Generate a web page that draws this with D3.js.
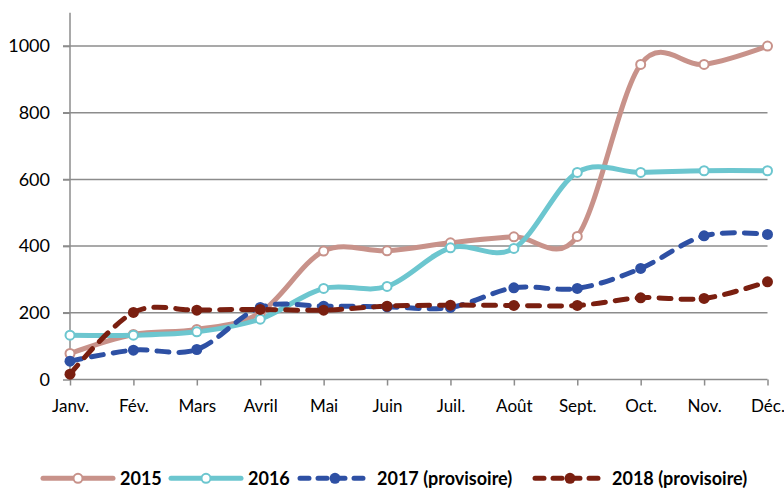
<!DOCTYPE html>
<html><head><meta charset="utf-8">
<script src="https://cdn.jsdelivr.net/npm/d3@7"></script>
<style>html,body{margin:0;padding:0;background:#fff;}svg{display:block;font-family:Lato,"Open Sans",sans-serif;}</style>
</head><body>
<svg id="chart" width="784" height="488"></svg>
<script>
const months = ["Janv.","Fév.","Mars","Avril","Mai","Juin","Juil.","Août","Sept.","Oct.","Nov.","Déc."];
const yTicks = [0,200,400,600,800,1000];
const v2015 = [78,135,150,200,385,386,410,428,429,945,945,1000];
const v2016 = [133,133,143,181,273,279,395,393,621,621,626,626];
const v2017 = [55,88,90,216,220,218,216,275,273,333,431,435];
const v2018 = [16,201,208,210,208,220,223,222,222,245,243,293];
const seriesNames = ["2015","2016","2017 (provisoire)","2018 (provisoire)"];
const seriesColors = ["#C8928A","#6CC6CF","#2E50A4","#7A1F10"];

const series = [
  {name:seriesNames[0], values:v2015, color:seriesColors[0], dashed:false},
  {name:seriesNames[1], values:v2016, color:seriesColors[1], dashed:false},
  {name:seriesNames[2], values:v2017, color:seriesColors[2], dashed:true},
  {name:seriesNames[3], values:v2018, color:seriesColors[3], dashed:true}
];

const svg = d3.select("#chart");
const x = d3.scalePoint().domain(months).range([70,767.5]).padding(0);
const y = d3.scaleLinear().domain([0,1100]).range([379.5,12.7]);
const axisColor = "#8c8c8c";

// gridlines
svg.append("g").selectAll("line").data(yTicks.filter(d=>d>0)).join("line")
  .attr("x1",63).attr("x2",767.5)
  .attr("y1",d=>y(d)).attr("y2",d=>y(d))
  .attr("stroke",axisColor).attr("stroke-width",1.5);

// y axis
const yAxis = svg.append("g").attr("transform","translate(70,0)")
  .call(d3.axisLeft(y).tickValues(yTicks).tickSize(7).tickPadding(13).tickFormat(d3.format("d")));
yAxis.select(".domain").attr("stroke",axisColor).attr("stroke-width",1.5).attr("d","M0,12.7V379.5");
yAxis.selectAll(".tick line").attr("stroke",axisColor).attr("stroke-width",1.5);
yAxis.selectAll("text").attr("font-size",18).attr("fill","#000").attr("font-family","Lato");

// x axis
const xAxis = svg.append("g").attr("transform","translate(0,379.5)")
  .call(d3.axisBottom(x).tickSize(6).tickPadding(14));
xAxis.select(".domain").attr("stroke",axisColor).attr("stroke-width",1.5).attr("d","M70,0H767.5");
xAxis.selectAll(".tick line").attr("stroke",axisColor).attr("stroke-width",1.5);
xAxis.selectAll("text").attr("font-size",17).attr("fill","#000").attr("font-family","Lato");

// lines
const line = d3.line().x((d,i)=>x(months[i])).y(d=>y(d)).curve(d3.curveCardinal.tension(0));
series.forEach(s=>{
  svg.append("path").datum(s.values).attr("d",line)
    .attr("fill","none").attr("stroke",s.color).attr("stroke-width",5)
    .attr("stroke-linecap","round")
    .attr("stroke-dasharray",s.dashed?"12,10":null);
});
series.forEach(s=>{
  svg.append("g").selectAll("circle").data(s.values).join("circle")
    .attr("cx",(d,i)=>x(months[i])).attr("cy",d=>y(d))
    .attr("r",s.dashed?5.5:4.5)
    .attr("fill",s.dashed?s.color:"#fff")
    .attr("stroke",s.color).attr("stroke-width",s.dashed?0:2);
});

// legend
const legendX = [43,171,300,535];
const lg = svg.append("g");
series.forEach((s,k)=>{
  const x0 = legendX[k], ly = 478.3;
  const g = lg.append("g");
  g.append("line").attr("x1",x0).attr("x2",x0+70).attr("y1",ly).attr("y2",ly)
    .attr("stroke",s.color).attr("stroke-width",5).attr("stroke-linecap","round")
    .attr("stroke-dasharray",s.dashed?"9,9":null);
  g.append("circle").attr("cx",x0+35).attr("cy",ly).attr("r",s.dashed?5.5:4.5)
    .attr("fill",s.dashed?s.color:"#fff").attr("stroke",s.color).attr("stroke-width",s.dashed?0:2);
  g.append("text").attr("x",x0+77).attr("y",485).attr("font-size",18).attr("font-weight","bold")
    .attr("font-family","Lato").attr("fill","#000").text(s.name);
});
</script>
</body></html>
